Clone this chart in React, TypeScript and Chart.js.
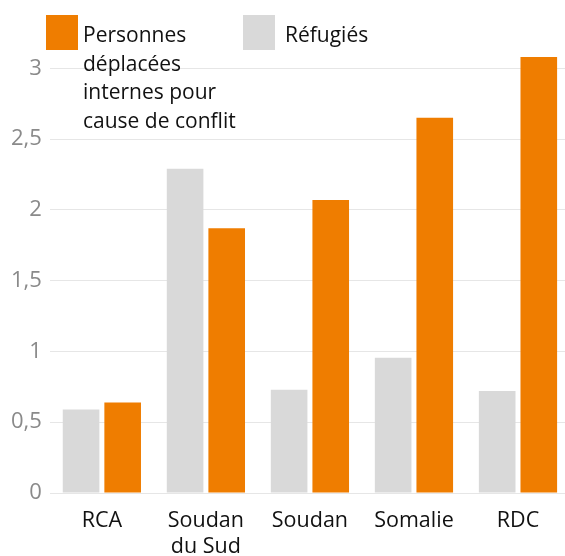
import React, { useEffect, useRef } from "react";
import { Chart, registerables } from "chart.js";

Chart.register(...registerables);

const categories: (string | string[])[] = ["RCA", ["Soudan", "du Sud"], "Soudan", "Somalie", "RDC"];
const refugies = [0.59, 2.29, 0.73, 0.955, 0.72];
const deplaces = [0.64, 1.87, 2.07, 2.65, 3.08];
const yTickValues = [0, 0.5, 1, 1.5, 2, 2.5, 3];
const legendDeplaces = ["Personnes", "déplacées", "internes pour", "cause de conflit"];
const legendRefugies = ["Réfugiés"];

const ORANGE = "#ef7d00";
const GREY = "#d9d9d9";
const FONT = "'Open Sans', 'Noto Sans', sans-serif";

export default function App() {
  const ref = useRef<HTMLCanvasElement | null>(null);

  useEffect(() => {
    document.body.style.margin = "0";
    const canvas = ref.current;
    if (!canvas) return;
    const chart = new Chart(canvas, {
      type: "bar",
      data: {
        labels: categories,
        datasets: [
          {
            label: legendRefugies.join(" "),
            data: refugies,
            backgroundColor: GREY,
            barPercentage: 0.88,
            categoryPercentage: 0.8,
          },
          {
            label: legendDeplaces.join(" "),
            data: deplaces,
            backgroundColor: ORANGE,
            barPercentage: 0.88,
            categoryPercentage: 0.8,
          },
        ],
      },
      options: {
        responsive: false,
        animation: false,
        layout: { padding: { top: 47, left: 3, right: 0, bottom: 11 } },
        plugins: { legend: { display: false }, tooltip: { enabled: false } },
        scales: {
          x: {
            grid: { display: false, drawTicks: false },
            border: { display: false },
            ticks: {
              color: "#111",
              padding: 15,
              maxRotation: 0,
              autoSkip: false,
              font: { family: FONT, size: 21.5, lineHeight: 26 / 21.5 },
            },
          },
          y: {
            min: 0,
            max: 3.15,
            afterBuildTicks: (axis: any) => {
              axis.ticks = yTickValues.map((v) => ({ value: v }));
            },
            grid: { color: "#e6e6e6", lineWidth: 1, drawTicks: false },
            border: { display: false },
            ticks: {
              color: "#8a8a8a",
              padding: 8,
              font: { family: FONT, size: 22 },
              callback: (v: any) => String(v).replace(".", ","),
            },
          },
        },
      },
    });
    return () => chart.destroy();
  }, []);

  const textStyle: React.CSSProperties = {
    position: "absolute",
    fontFamily: FONT,
    fontSize: 21,
    lineHeight: "28.5px",
    color: "#111",
    whiteSpace: "nowrap",
  };

  return (
    <div style={{ position: "relative", width: 565, height: 556, overflow: "hidden", background: "#fff" }}>
      <canvas ref={ref} width={570} height={586} style={{ display: "block" }} />
      <div style={{ position: "absolute", left: 46, top: 15, width: 32, height: 35, background: ORANGE }} />
      <div style={{ ...textStyle, left: 83, top: 20 }}>
        {legendDeplaces.map((l, i) => (
          <div key={i}>{l}</div>
        ))}
      </div>
      <div style={{ position: "absolute", left: 243, top: 15, width: 32, height: 35, background: GREY }} />
      <div style={{ ...textStyle, left: 285, top: 20 }}>
        {legendRefugies.map((l, i) => (
          <div key={i}>{l}</div>
        ))}
      </div>
    </div>
  );
}
